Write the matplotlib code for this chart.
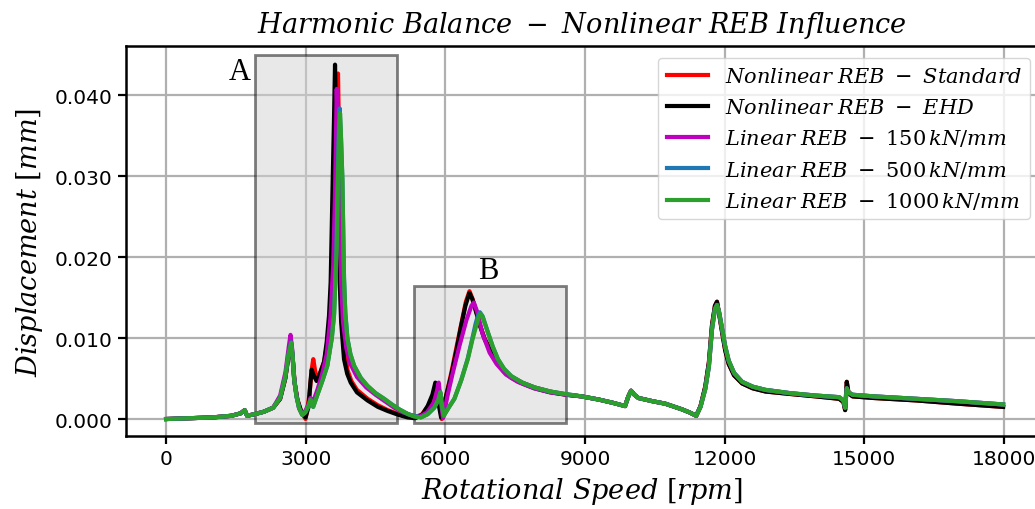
import numpy as np
import matplotlib
matplotlib.use("Agg")
import matplotlib.pyplot as plt
from matplotlib.patches import Rectangle

plt.rcParams['mathtext.fontset'] = 'dejavuserif'

# common low speed part (all series overlap)
low_rpm = [0, 500, 1000, 1400, 1600, 1690, 1740, 1900, 2100, 2300]
low_disp = [0.0, 0.0001, 0.0002, 0.0004, 0.0007, 0.0011, 0.0004, 0.0006, 0.0009, 0.0014]

# common high speed part
tail_rpm = [8924, 9300, 9600, 9859, 9930, 9988, 10060, 10146, 10450, 10720, 11080,
            11250, 11388, 11480, 11582, 11660, 11727, 11790, 11834, 11880, 11942,
            12010, 12086, 12200, 12373, 12600, 12876, 13400, 13954, 14458, 14550,
            14587, 14610, 14622, 14660, 14745, 15200, 16110, 17000, 17980]
tail_lin = [0.0028, 0.0024, 0.0020, 0.0016, 0.0028, 0.0035, 0.0030, 0.0026, 0.0022,
            0.0019, 0.0012, 0.0008, 0.0004, 0.0015, 0.0037, 0.0065, 0.0111, 0.0136,
            0.0141, 0.0132, 0.0112, 0.0090, 0.0072, 0.0057, 0.0046, 0.0040, 0.0036,
            0.0032, 0.0029, 0.0027, 0.0023, 0.0014, 0.0030, 0.0038, 0.0033, 0.0030,
            0.0028, 0.0025, 0.0022, 0.0018]
tail_nl = [0.0028, 0.0024, 0.0020, 0.0016, 0.0028, 0.0035, 0.0030, 0.0026, 0.0022,
           0.0019, 0.0012, 0.0008, 0.0004, 0.0016, 0.0040, 0.0070, 0.0116, 0.0140,
           0.0145, 0.0130, 0.0108, 0.0085, 0.0068, 0.0054, 0.0044, 0.0038, 0.0034,
           0.0031, 0.0028, 0.0025, 0.0021, 0.0011, 0.0034, 0.0046, 0.0032, 0.0028,
           0.0026, 0.0023, 0.0019, 0.0015]

# mid range (regions A and B) per series
std_rpm = [2450, 2560, 2630, 2688, 2720, 2760, 2820, 2900, 2996, 3080, 3130, 3162,
           3200, 3240, 3300, 3400, 3480, 3540, 3590, 3640, 3670, 3693, 3715, 3740,
           3770, 3830, 3900, 3980, 4100, 4330, 4550, 4760, 5000, 5200, 5350, 5500,
           5650, 5760, 5834, 5880, 5920, 6020, 6130, 6250, 6350, 6440, 6517, 6580,
           6661, 6750, 6840, 7056, 7250, 7415, 7650, 7918, 8250, 8600]
std_disp = [0.0025, 0.0050, 0.0078, 0.0092, 0.0075, 0.0045, 0.0024, 0.0009, 0.0000,
            0.0030, 0.0062, 0.0074, 0.0060, 0.0050, 0.0056, 0.0072, 0.0100, 0.0140,
            0.0220, 0.0330, 0.0400, 0.0427, 0.0350, 0.0250, 0.0160, 0.0085, 0.0060,
            0.0047, 0.0036, 0.0025, 0.0017, 0.0011, 0.0006, 0.0003, 0.0002, 0.0006,
            0.0018, 0.0032, 0.0041, 0.0018, 0.0000, 0.0030, 0.0058, 0.0092, 0.0120,
            0.0145, 0.0158, 0.0149, 0.0133, 0.0115, 0.0100, 0.0075, 0.0060, 0.0052,
            0.0045, 0.0039, 0.0034, 0.0030]

ehd_rpm = [2450, 2560, 2630, 2688, 2720, 2760, 2820, 2900, 2996, 3060, 3100, 3126,
           3170, 3233, 3300, 3391, 3450, 3500, 3535, 3578, 3608, 3629, 3660, 3700,
           3760, 3822, 3890, 3966, 4100, 4326, 4550, 4757, 5000, 5188, 5350, 5500,
           5619, 5720, 5784, 5850, 5907, 6000, 6122, 6238, 6338, 6430, 6517, 6580,
           6661, 6750, 6840, 7056, 7250, 7415, 7650, 7918, 8250, 8600]
ehd_disp = [0.0025, 0.0050, 0.0078, 0.0092, 0.0075, 0.0045, 0.0024, 0.0010, 0.0002,
            0.0015, 0.0045, 0.0061, 0.0054, 0.0047, 0.0055, 0.0070, 0.0095, 0.0128,
            0.0169, 0.0292, 0.0374, 0.0438, 0.0340, 0.0220, 0.0120, 0.0074, 0.0056,
            0.0045, 0.0033, 0.0023, 0.0015, 0.0010, 0.0005, 0.0002, 0.0001, 0.0005,
            0.0016, 0.0030, 0.0045, 0.0020, 0.0002, 0.0025, 0.0053, 0.0085, 0.0115,
            0.0140, 0.0156, 0.0148, 0.0132, 0.0114, 0.0099, 0.0074, 0.0059, 0.0051,
            0.0044, 0.0038, 0.0033, 0.0030]

k150_rpm = [2450, 2565, 2637, 2673, 2709, 2745, 2802, 2853, 2925, 2990, 3060, 3100,
            3150, 3250, 3350, 3450, 3530, 3590, 3625, 3650, 3665, 3690, 3720, 3760,
            3800, 3870, 3960, 4100, 4300, 4500, 4700, 4900, 5100, 5300, 5450, 5600,
            5750, 5820, 5856, 5900, 5950, 6050, 6150, 6300, 6450, 6560, 6611, 6680,
            6800, 6950, 7100, 7300, 7550, 7900, 8250, 8600]
k150_disp = [0.0029, 0.0058, 0.0090, 0.0104, 0.0086, 0.0053, 0.0029, 0.0014, 0.0006,
             0.0010, 0.0018, 0.0026, 0.0020, 0.0036, 0.0055, 0.0080, 0.0125, 0.0190,
             0.0270, 0.0350, 0.0408, 0.0360, 0.0260, 0.0170, 0.0120, 0.0088, 0.0068,
             0.0052, 0.0039, 0.0030, 0.0022, 0.0014, 0.0008, 0.0004, 0.0003, 0.0008,
             0.0020, 0.0035, 0.0045, 0.0022, 0.0001, 0.0030, 0.0055, 0.0090, 0.0122,
             0.0140, 0.0144, 0.0133, 0.0105, 0.0082, 0.0068, 0.0055, 0.0046, 0.0038,
             0.0033, 0.0030]

k500_rpm = [2450, 2560, 2630, 2688, 2715, 2750, 2800, 2860, 2925, 2990, 3060, 3104,
            3160, 3250, 3350, 3464, 3560, 3608, 3660, 3690, 3712, 3729, 3755, 3787,
            3822, 3850, 3895, 3960, 4038, 4180, 4326, 4500, 4684, 4850, 5008, 5200,
            5331, 5475, 5620, 5762, 5850, 5892, 5930, 5964, 6080, 6193, 6340, 6481,
            6580, 6650, 6700, 6740, 6800, 6913, 7020, 7128, 7260, 7415, 7650, 7918,
            8250, 8565]
k500_disp = [0.0026, 0.0052, 0.0080, 0.0095, 0.0080, 0.0050, 0.0028, 0.0013, 0.0005,
             0.0008, 0.0016, 0.0024, 0.0015, 0.0030, 0.0046, 0.0066, 0.0100, 0.0130,
             0.0215, 0.0310, 0.0360, 0.0384, 0.0350, 0.0296, 0.0175, 0.0132, 0.0100,
             0.0080, 0.0066, 0.0051, 0.0041, 0.0032, 0.0025, 0.0018, 0.0012, 0.0006,
             0.0004, 0.0002, 0.0006, 0.0014, 0.0024, 0.0033, 0.0015, 0.0004, 0.0015,
             0.0025, 0.0048, 0.0075, 0.0100, 0.0118, 0.0128, 0.0132, 0.0127, 0.0107,
             0.0089, 0.0074, 0.0062, 0.0053, 0.0045, 0.0039, 0.0034, 0.0031]

k1000_rpm = [2450, 2560, 2630, 2688, 2715, 2750, 2800, 2860, 2925, 2990, 3060, 3104,
             3160, 3250, 3350, 3464, 3560, 3608, 3665, 3693, 3715, 3737, 3760, 3787,
             3822, 3850, 3895, 3960, 4038, 4180, 4326, 4500, 4684, 4850, 5008, 5200,
             5331, 5475, 5620, 5762, 5850, 5892, 5930, 5964, 6080, 6193, 6340, 6481,
             6580, 6661, 6720, 6754, 6800, 6913, 7020, 7128, 7260, 7415, 7650, 7918,
             8250, 8565]
k1000_disp = [0.0026, 0.0052, 0.0080, 0.0094, 0.0080, 0.0050, 0.0028, 0.0013, 0.0005,
              0.0008, 0.0016, 0.0024, 0.0015, 0.0030, 0.0046, 0.0066, 0.0100, 0.0128,
              0.0210, 0.0300, 0.0350, 0.0378, 0.0345, 0.0296, 0.0173, 0.0130, 0.0099,
              0.0080, 0.0066, 0.0051, 0.0041, 0.0032, 0.0025, 0.0018, 0.0012, 0.0006,
              0.0003, 0.0002, 0.0006, 0.0014, 0.0024, 0.0033, 0.0015, 0.0004, 0.0015,
              0.0025, 0.0048, 0.0074, 0.0098, 0.0115, 0.0127, 0.0130, 0.0126, 0.0107,
              0.0089, 0.0074, 0.0062, 0.0053, 0.0045, 0.0039, 0.0034, 0.0031]

labels = [r'$Nonlinear\ REB\ -\ Standard$',
          r'$Nonlinear\ REB\ -\ EHD$',
          r'$Linear\ REB\ -\ 150\,kN/mm$',
          r'$Linear\ REB\ -\ 500\,kN/mm$',
          r'$Linear\ REB\ -\ 1000\,kN/mm$']
colors = ['r', 'k', 'm', 'tab:blue', 'tab:green']

series = [(std_rpm, std_disp, tail_nl),
          (ehd_rpm, ehd_disp, tail_nl),
          (k150_rpm, k150_disp, tail_lin),
          (k500_rpm, k500_disp, tail_lin),
          (k1000_rpm, k1000_disp, tail_lin)]

fig = plt.figure(figsize=(10.35, 5.1), dpi=100)
ax = fig.add_axes([0.1217, 0.1431, 0.8813, 0.7647])

for (r, d, t), c, lab in zip(series, colors, labels):
    x = np.concatenate([low_rpm, r, tail_rpm])
    y = np.concatenate([low_disp, d, t])
    ax.plot(x, y, color=c, lw=3, label=lab)

#zonas A y B
ax.add_patch(Rectangle((1900, -0.0005), 3060, 0.0455, facecolor='lightgray',
                       edgecolor='k', alpha=0.5, lw=2, zorder=1))
ax.add_patch(Rectangle((5330, -0.0005), 3250, 0.0170, facecolor='lightgray',
                       edgecolor='k', alpha=0.5, lw=2, zorder=1))
ax.text(1590, 0.0430, 'A', fontsize=22, family='Liberation Serif', ha='center', va='center')
ax.text(6920, 0.0183, 'B', fontsize=22, family='Liberation Serif', ha='center', va='center')

ax.set_xlim(-862, 18732)
ax.set_ylim(-0.0021, 0.0461)
ax.set_xticks(np.arange(0, 18001, 3000))
ax.set_yticks(np.arange(0, 0.041, 0.01))
ax.yaxis.set_major_formatter(matplotlib.ticker.FormatStrFormatter('%.3f'))
ax.tick_params(labelsize=14.5, width=1.6, length=6)
ax.grid(True, color='#b0b0b0', lw=1.6)
ax.set_axisbelow(True)
for s in ['left', 'bottom', 'top']:
    ax.spines[s].set_linewidth(1.8)

ax.set_title(r'$Harmonic\ Balance\ -\ Nonlinear\ REB\ Influence$', fontsize=19.5, pad=10)
ax.set_xlabel(r'$Rotational\ Speed\ [rpm]$', fontsize=19.5, labelpad=5)
ax.set_ylabel(r'$Displacement\ [mm]$', fontsize=19.5, labelpad=7)
ax.legend(loc='upper right', fontsize=15, bbox_to_anchor=(0.991, 0.969), borderaxespad=0)

fig.savefig('out.png', dpi=100)
